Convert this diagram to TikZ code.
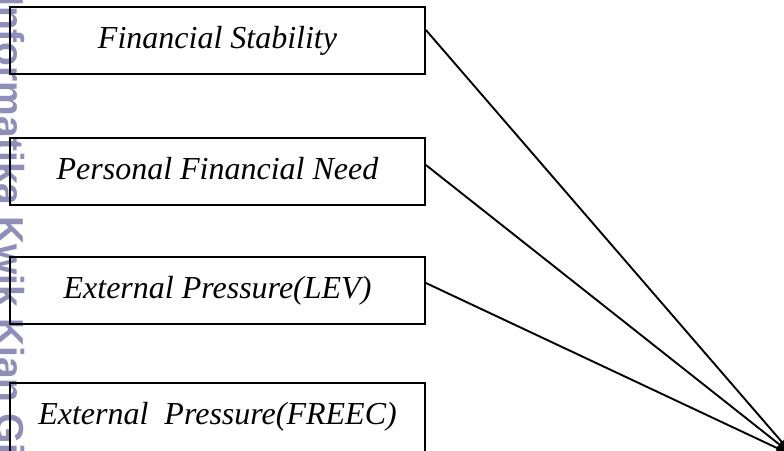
\documentclass[tikz,border=0pt]{standalone}
\usepackage{fontspec}
\setmainfont{Liberation Serif}
\newfontfamily\marksans{Liberation Sans}
\usepackage{tikz}
\usetikzlibrary{arrows.meta}
\definecolor{markgray}{RGB}{142,142,184}

\begin{document}
\begin{tikzpicture}[x=1pt,y=-1pt,
    varbox/.style={draw,line width=1.8pt,minimum width=415pt,minimum height=67pt,
      inner sep=0pt,font=\fontsize{32}{36}\selectfont\itshape,
      text height=22pt,text depth=7pt},
    link/.style={line width=1.9pt,-{Latex[length=18pt,width=14pt]}}]
          \useasboundingbox (0,0) rectangle (784,450);
          \clip (0,0) rectangle (784,450);
          % margin stamp running down the left edge
          \node[markgray,rotate=-90,anchor=base west,inner sep=0pt,
            font=\marksans\bfseries\fontsize{39}{42}\selectfont] (stamp)
          at (-3,-5) {Informatika Kwik Kian Gie};
          % independent variables
          \node[varbox] (stab) at (217.5,40.75) {Financial Stability};
          \node[varbox] (need) at (217.5,171.5) {Personal Financial Need};
          \node[varbox] (lev) at (217.5,290.5) {External Pressure(LEV)};
          \node[varbox,minimum height=77pt,text depth=17pt] (freec)
          at (217.5,421.5) {External\ \ Pressure(FREEC)};
          %\draw[very thin,lightgray] (0,0) grid[step=50] (784,450);
          \coordinate (sink) at (794,456);
          \draw[link] ([yshift=10.75pt]stab.east) -- (sink);
          \draw[link] ([yshift=6.5pt]need.east) -- (sink);
          \draw[link] ([yshift=7.5pt]lev.east) -- (sink);
        \end{tikzpicture}
\end{document}
